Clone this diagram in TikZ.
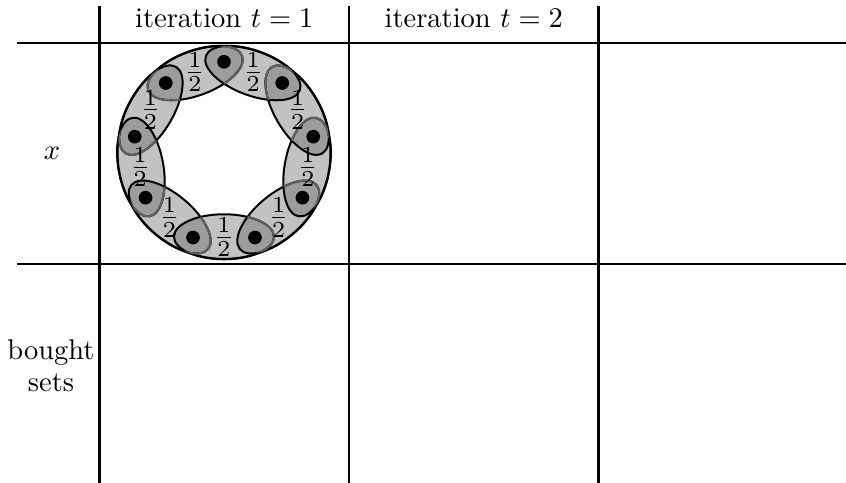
\documentclass[tikz,border=0pt]{standalone}
\usetikzlibrary{calc}
\definecolor{ringL}{gray}{0.76}
\definecolor{ringD}{gray}{0.61}
\definecolor{edgeG}{gray}{0.38}
\tikzset{
  grid line/.style={line width=0.8pt, black},
  set edge/.style={line width=0.7pt},
  vertex dot/.style={circle, fill=black, inner sep=0pt, minimum size=4.8pt},
  frac label/.style={inner sep=0pt, scale=1.15},
  set shape/.style={shift={(C)}, rotate=#1},
}
\begin{document}
\begin{tikzpicture}[x=0.3509pt, y=0.3509pt]
\useasboundingbox (0,0) rectangle (846,483);
\coordinate (C) at (224,330.6);
% ring background
\fill[ringL] (C) circle [radius=37.37pt];
\fill[white] (C) circle [radius=29.6pt];
\foreach \a in {110,150,...,430}
  \fill[ringL, set shape=\a] (84.4,0) ellipse [x radius=7.9pt, y radius=17.55pt];
% overlaps
\foreach \a in {110,150,...,430} {
  \pgfmathtruncatemacro\b{\a+40}
  \begin{scope}
    \clip[set shape=\a] (84.4,0) ellipse [x radius=7.9pt, y radius=17.55pt];
    \fill[ringD, set shape=\b] (84.4,0) ellipse [x radius=7.9pt, y radius=17.55pt];
  \end{scope}
}
% outlines
\draw[set edge] (C) circle [radius=37.37pt];
\foreach \a in {110,150,...,430}
  \draw[set edge, set shape=\a] (84.4,0) ellipse [x radius=7.9pt, y radius=17.55pt];
\foreach \a in {110,150,...,390} {
  \pgfmathtruncatemacro\b{\a+40}
  \begin{scope}
    \clip[set shape=\b] (84.4,0) ellipse [x radius=7.9pt, y radius=17.55pt];
    \draw[set edge, edgeG, set shape=\a] (84.4,0) ellipse [x radius=7.9pt, y radius=17.55pt];
  \end{scope}
}
\begin{scope}
  \clip[set shape=430] (84.4,0) ellipse [x radius=7.9pt, y radius=17.55pt];
  \draw[set edge, edgeG, set shape=110] (84.4,0) ellipse [x radius=7.9pt, y radius=17.55pt];
\end{scope}
% vertices and labels
\foreach \j in {0,...,8} {
  \pgfmathsetmacro\phi{90-40*\j}
  \pgfmathsetmacro\th{70-40*\j}
  \node[vertex dot] (v\j) at ($(C)+(\phi:90.6)$) {};
  \node[frac label] (f\j) at ($(C)+(\th:85.1)$) {$\frac{1}{2}$};
}
% table
\draw[grid line] (99.5,477) -- (99.5,0);
\draw[grid line] (349,477) -- (349,0);
\draw[grid line] (598.5,477) -- (598.5,0);
\draw[grid line] (16.7,440.3) -- (846,440.3);
\draw[grid line] (16.7,219) -- (846,219);
\node[anchor=base] (h1) at (224.25,455.5) {iteration $t=1$};
\node[anchor=base] (h2) at (473.75,455.5) {iteration $t=2$};
\node (rx) at (52,329.7) {$x$};
\node[anchor=base] (rb1) at (51,123.3) {bought};
\node[anchor=base] (rb2) at (51,91.3) {sets};
\end{tikzpicture}
\end{document}
